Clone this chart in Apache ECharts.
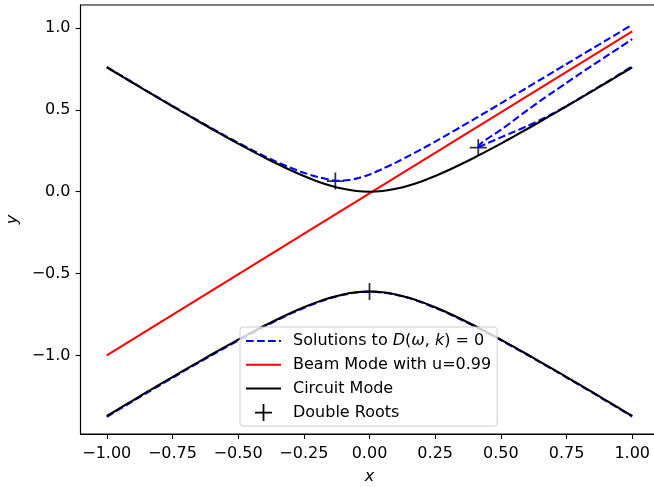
<!DOCTYPE html>
<html>
<head>
<meta charset="utf-8">
<script src="https://cdn.jsdelivr.net/npm/echarts@6/dist/echarts.min.js"></script>
<style>
  html, body { margin: 0; padding: 0; background: #fff; overflow: hidden; }
  #chart { width: 664px; height: 487px; }
</style>
</head>
<body>
<div id="chart"></div>
<script>
// grid of x values used for the circuit curves
var xGrid = [-1.0, -0.95, -0.9, -0.85, -0.8, -0.75, -0.7, -0.65, -0.6, -0.55, -0.5, -0.45, -0.4, -0.35, -0.3, -0.25, -0.2, -0.15, -0.1, -0.05,
  0.0, 0.05, 0.1, 0.15, 0.2, 0.25, 0.3, 0.35, 0.4, 0.45, 0.5, 0.55, 0.6, 0.65, 0.7, 0.75, 0.8, 0.85, 0.9, 0.95, 1.0]

// circuit mode, upper and lower branch
var circuitUpper = [0.76, 0.712, 0.664, 0.616, 0.569, 0.522, 0.475, 0.429, 0.383, 0.338, 0.294, 0.251, 0.209, 0.169, 0.131, 0.096, 0.0645, 0.038, 0.0175, 0.0045,
  0, 0.0045, 0.0175, 0.038, 0.0645, 0.096, 0.131, 0.169, 0.209, 0.251, 0.294, 0.338, 0.383, 0.429, 0.475, 0.522, 0.569, 0.616, 0.664, 0.712, 0.76]
var circuitLower = [-1.37, -1.322, -1.274, -1.226, -1.179, -1.132, -1.085, -1.039, -0.993, -0.948, -0.904, -0.861, -0.819, -0.779, -0.741, -0.706, -0.6745, -0.648, -0.6275, -0.6145,
  -0.61, -0.6145, -0.6275, -0.648, -0.6745, -0.706, -0.741, -0.779, -0.819, -0.861, -0.904, -0.948, -0.993, -1.039, -1.085, -1.132, -1.179, -1.226, -1.274, -1.322, -1.37]

// solutions of D(w,k)=0, lower branch (same x grid)
var solLower = [-1.375, -1.327, -1.279, -1.231, -1.184, -1.137, -1.09, -1.044, -0.998, -0.953, -0.909, -0.866, -0.824, -0.783, -0.745, -0.71, -0.678, -0.651, -0.63, -0.616,
  -0.611, -0.616, -0.629, -0.65, -0.677, -0.709, -0.744, -0.782, -0.822, -0.864, -0.907, -0.951, -0.996, -1.042, -1.088, -1.135, -1.182, -1.229, -1.277, -1.325, -1.373]

// solutions, upper branch through the left double root
var solUpperX = [-1.0, -0.95, -0.9, -0.85, -0.8, -0.75, -0.7, -0.65, -0.6, -0.55, -0.5, -0.45, -0.4, -0.35, -0.3, -0.25, -0.2, -0.15, -0.13, -0.1, -0.05,
  0.0, 0.05, 0.1, 0.15, 0.2, 0.25, 0.3, 0.35, 0.4, 0.45, 0.5, 0.55, 0.6, 0.65, 0.7, 0.75, 0.8, 0.85, 0.9, 0.95, 1.0]
var solUpperY = [0.762, 0.714, 0.666, 0.618, 0.571, 0.524, 0.478, 0.432, 0.387, 0.342, 0.299, 0.257, 0.217, 0.18, 0.146, 0.116, 0.091, 0.072, 0.067, 0.068, 0.08,
  0.105, 0.14, 0.178, 0.219, 0.262, 0.306, 0.352, 0.398, 0.445, 0.492, 0.54, 0.588, 0.636, 0.684, 0.732, 0.78, 0.828, 0.876, 0.924, 0.972, 1.02]

// the two branches leaving the right double root
var solRightX = [0.414, 0.42, 0.43, 0.45, 0.5, 0.55, 0.6, 0.65, 0.7, 0.75, 0.8, 0.85, 0.9, 0.95, 1.0]
var solRightUp = [0.269, 0.288, 0.303, 0.325, 0.378, 0.437, 0.497, 0.555, 0.61, 0.665, 0.72, 0.773, 0.826, 0.879, 0.932]
var solRightLo = [0.269, 0.275, 0.283, 0.297, 0.332, 0.366, 0.401, 0.438, 0.479, 0.524, 0.571, 0.619, 0.667, 0.716, 0.766]

// beam mode line
var beamX = [-1.0, 1.0]
var beamY = [-1.0, 0.98]

// double roots
var rootX = [-0.13, 0.414, 0.0]
var rootY = [0.065, 0.269, -0.61]

var xTicks = [-1, -0.75, -0.5, -0.25, 0, 0.25, 0.5, 0.75, 1]
var yTicks = [-1, -0.5, 0, 0.5, 1]

var SOL = 'Solutions to D(ω,k) = 0'
var BEAM = 'Beam Mode with u=0.99'
var CIRC = 'Circuit Mode'
var ROOTS = 'Double Roots'

function pairs (xs, ys) {
  return xs.map(function (x, i) { return [x, ys[i]] })
}
function minus (v, digits) {
  var s = Math.abs(v).toFixed(digits)
  return v < 0 ? '\u2212' + s : s
}

var FONT = 'DejaVu Sans'
var FS = 16
var plus = 'path://M0,7.6H7.6V0H9.4V7.6H17V9.4H9.4V17H7.6V9.4H0Z'
var dash = { color: '#0000ff', width: 2.08, type: [7.7, 3.3] }
var axisText = { fontFamily: FONT, fontSize: FS, fontStyle: 'italic', color: '#000' }

var myChart = echarts.init(document.getElementById('chart'), null, { renderer: 'canvas' })
var option = {
  animation: false,
  backgroundColor: '#ffffff',
  grid: {
    left: 80.5,
    top: 5,
    width: 578,
    height: 429,
    show: true,
    borderColor: '#000',
    borderWidth: 1.1,
    containLabel: false,
    outerBoundsMode: 'none'
  },
  legend: {
    left: 240,
    top: 327,
    orient: 'vertical',
    data: [SOL, BEAM, CIRC, { name: ROOTS, itemStyle: { opacity: 1 } }],
    itemWidth: 35,
    itemHeight: 17,
    itemGap: 7.7,
    padding: [6, 6, 5, 5],
    borderColor: '#cccccc',
    borderWidth: 1,
    borderRadius: 3,
    backgroundColor: 'rgba(255,255,255,0.8)',
    itemStyle: { opacity: 0 },
    formatter: function (name) {
      if (name === SOL) return 'Solutions to {i|D}({i|ω}, {i|k}) = 0'
      return name
    },
    textStyle: {
      fontFamily: FONT,
      fontSize: FS,
      color: '#000',
      padding: [0, 0, 0, 7],
      rich: {
        i: { fontFamily: FONT, fontSize: FS, fontStyle: 'italic', color: '#000' }
      }
    }
  },
  xAxis: {
    type: 'value',
    min: -1.1,
    max: 1.1,
    name: 'x',
    nameLocation: 'middle',
    nameGap: 35,
    nameTextStyle: axisText,
    axisLine: { show: true, onZero: false, lineStyle: { color: '#000', width: 1.1 } },
    splitLine: { show: false },
    axisTick: {
      show: true,
      inside: false,
      length: 4.9,
      lineStyle: { color: '#000', width: 1.1 },
      customValues: xTicks
    },
    axisLabel: {
      fontFamily: FONT,
      fontSize: FS,
      color: '#000',
      margin: 12,
      customValues: xTicks,
      formatter: function (v) { return minus(v, 2) }
    }
  },
  yAxis: {
    type: 'value',
    min: -1.48,
    max: 1.1405,
    name: 'y',
    nameLocation: 'middle',
    nameGap: 58,
    nameTextStyle: axisText,
    axisLine: { show: true, onZero: false, lineStyle: { color: '#000', width: 1.1 } },
    splitLine: { show: false },
    axisTick: {
      show: true,
      inside: false,
      length: 4.9,
      lineStyle: { color: '#000', width: 1.1 },
      customValues: yTicks
    },
    axisLabel: {
      fontFamily: FONT,
      fontSize: FS,
      color: '#000',
      margin: 10,
      customValues: yTicks,
      formatter: function (v) { return minus(v, 1) }
    }
  },
  series: [
    {
      name: SOL,
      type: 'line',
      symbol: 'none',
      smooth: 0.3,
      lineStyle: dash,
      itemStyle: { color: '#0000ff' },
      data: pairs(solUpperX, solUpperY)
    },
    {
      name: SOL,
      type: 'line',
      symbol: 'none',
      smooth: 0.3,
      lineStyle: dash,
      itemStyle: { color: '#0000ff' },
      data: pairs(solRightX, solRightUp)
    },
    {
      name: SOL,
      type: 'line',
      symbol: 'none',
      smooth: 0.3,
      lineStyle: dash,
      itemStyle: { color: '#0000ff' },
      data: pairs(solRightX, solRightLo)
    },
    {
      name: SOL,
      type: 'line',
      symbol: 'none',
      smooth: 0.3,
      lineStyle: dash,
      itemStyle: { color: '#0000ff' },
      data: pairs(xGrid, solLower)
    },
    {
      name: BEAM,
      type: 'line',
      symbol: 'none',
      lineStyle: { color: '#ff0000', width: 2.08 },
      itemStyle: { color: '#ff0000' },
      data: pairs(beamX, beamY)
    },
    {
      name: CIRC,
      type: 'line',
      symbol: 'none',
      smooth: 0.3,
      lineStyle: { color: '#000000', width: 2.08 },
      itemStyle: { color: '#000000' },
      data: pairs(xGrid, circuitUpper)
    },
    {
      name: CIRC,
      type: 'line',
      symbol: 'none',
      smooth: 0.3,
      lineStyle: { color: '#000000', width: 2.08 },
      itemStyle: { color: '#000000' },
      data: pairs(xGrid, circuitLower)
    },
    {
      name: ROOTS,
      type: 'scatter',
      symbol: plus,
      symbolSize: 17,
      itemStyle: { color: '#000000' },
      data: pairs(rootX, rootY)
    }
  ]
}
myChart.setOption(option)
</script>
</body>
</html>
